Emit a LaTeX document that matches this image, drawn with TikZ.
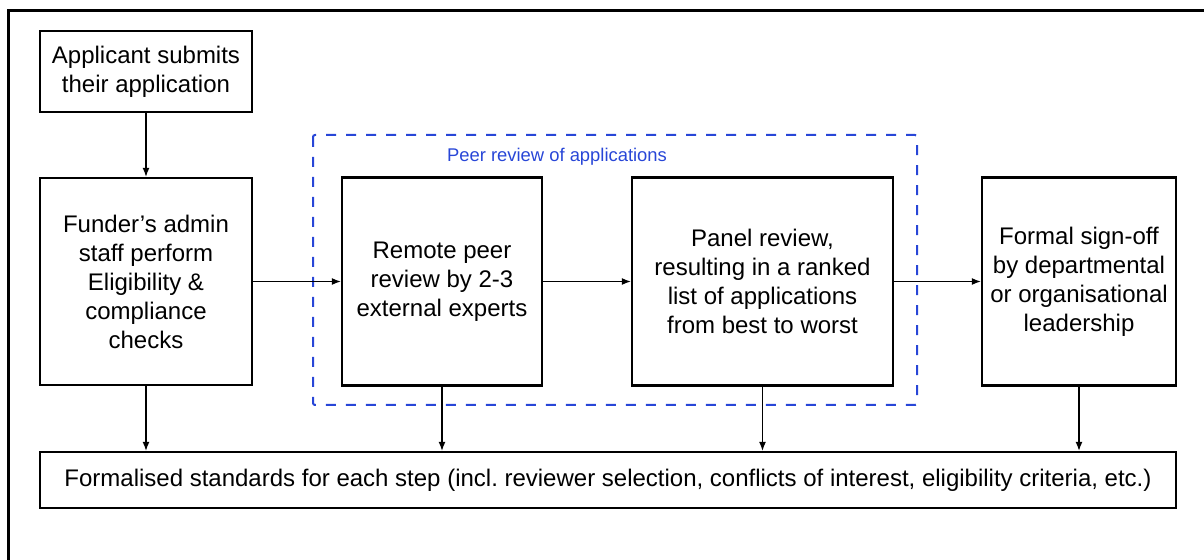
\documentclass[tikz,border=0pt]{standalone}
\usepackage{fontspec}
\setmainfont{Liberation Sans}
\usetikzlibrary{arrows.meta}

\definecolor{peerblue}{RGB}{40,70,215}

\begin{document}
\begin{tikzpicture}[x=0.5pt, y=-0.5pt,
  stepbox/.style={draw, line width=1.2pt, align=center, inner sep=0pt,
    font=\fontsize{12}{14.5}\selectfont},
  flow/.style={-{Latex[length=4.5pt,width=3.5pt]}, line width=0.6pt}]

% Canvas (pixel grid of the reference)
\useasboundingbox (0,0) rectangle (1204,560);

% Frame, only top and left edges show
\draw[line width=1.5pt] (8,560) -- (8,11) -- (1204,11);

% Row heights
\def\RowY{281.5}  % centre of the step boxes
\def\BotY{480}    % centre of the standards box

% Peer review group
\draw[peerblue, line width=1pt, dash pattern=on 5pt off 5pt, rounded corners=1pt]
  (313,135) rectangle (917,405);
\node[peerblue, font=\fontsize{9.2}{11}\selectfont] (peerlabel) at (557,157)
  {Peer review of applications};

% Steps
\node[stepbox, minimum width=106pt, minimum height=40.5pt] (submit) at (146,71.5)
  {Applicant submits\\their application};
\node[stepbox, minimum width=106pt, minimum height=103.5pt] (admin) at (146,\RowY)
  {Funder’s admin\\staff perform\\Eligibility \&\\compliance\\checks};
\node[stepbox, minimum width=100pt, minimum height=104pt] (remote) at (442,\RowY)
  {Remote peer\\review by 2-3\\external experts};
\node[stepbox, minimum width=130.5pt, minimum height=104pt] (panel) at (762.5,\RowY)
  {Panel review,\\resulting in a ranked\\list of applications\\from best to worst};
\node[stepbox, minimum width=97pt, minimum height=104pt] (signoff) at (1079,\RowY)
  {Formal sign-off\\by departmental\\or organisational\\leadership};

% Standards
\node[stepbox, minimum width=568pt, minimum height=28pt] (standards) at (608,\BotY)
  {Formalised standards for each step (incl.\ reviewer selection, conflicts of interest, eligibility criteria, etc.)};

% Flow
\draw[flow] (submit) -- (admin);
\draw[flow] (admin) -- (remote);
\draw[flow] (remote) -- (panel);
\draw[flow] (panel) -- (signoff);

% Down to standards
\foreach \s in {admin, remote, panel, signoff}
  \draw[flow] (\s.south) -- (\s.south |- standards.north);

\end{tikzpicture}
\end{document}
